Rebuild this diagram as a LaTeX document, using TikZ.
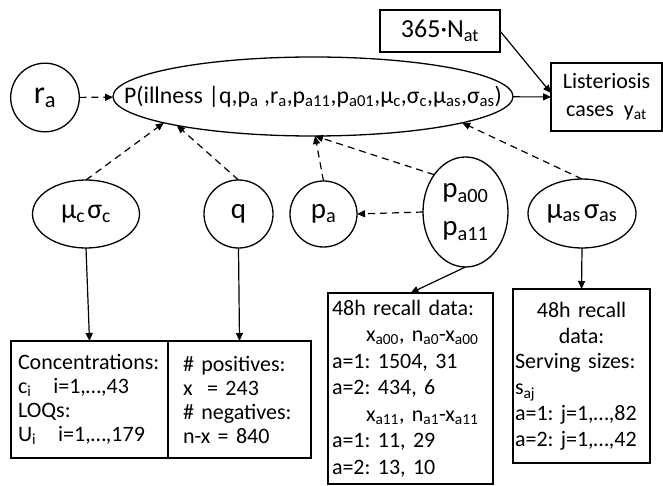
\documentclass[tikz,border=0pt]{standalone}
\usepackage{fontspec}
\setmainfont{Carlito}
\usetikzlibrary{arrows.meta,shapes.geometric}
\newcommand\sbs[1]{\textsubscript{#1}}
\frenchspacing
\begin{document}
\frenchspacing
\begin{tikzpicture}[x=1pt,y=-1pt,
  every node/.style={inner sep=0pt, outer sep=0pt},
  ell/.style={draw, ellipse, line width=1.3pt, inner sep=0pt},
  boxnode/.style={draw, rectangle, line width=1.5pt},
  lbl/.style={font=\fontsize{29}{38}\selectfont},
  dasharrow/.style={line width=1.2pt, dash pattern=on 7pt off 5pt, -{Triangle[length=8pt,width=7pt]}},
  solidarrow/.style={line width=1.2pt, -{Triangle[length=8pt,width=7pt]}}
]
\useasboundingbox (0,0) rectangle (663,486);

\node[ell, minimum width=68.6pt, minimum height=68.6pt, font=\fontsize{32}{34}\selectfont] (ra) at (45,97.5) {r\sbs{a}};
\node[ell, minimum width=400pt, minimum height=79pt, font=\fontsize{23.8}{26}\selectfont] (main) at (313,96.5)
  {\makebox[0pt]{P(illness |q,p\sbs{a} ,r\sbs{a},p\sbs{a11},p\sbs{a01},μ\sbs{c},σ\sbs{c},μ\sbs{as},σ\sbs{as})}};
\node[boxnode, minimum width=120pt, minimum height=42pt, font=\fontsize{26}{28}\selectfont] (nat) at (440,31) {365·N\sbs{at}};
\node[boxnode, minimum width=111pt, minimum height=68pt, align=center, font=\fontsize{22}{28}\selectfont] (lis) at (606.5,97) {Listeriosis\\cases\ \ y\sbs{at}};

\node[ell, minimum width=107pt, minimum height=68pt, font=\fontsize{28}{30}\selectfont] (mu) at (86,214) {μ\sbs{c}\hspace{2pt}σ\sbs{c}};
\node[ell, minimum width=69pt, minimum height=68pt, lbl] (q) at (238.5,214) {q};
\node[ell, minimum width=67pt, minimum height=66pt, lbl] (pa) at (323.5,214) {p\sbs{a}};
\node[ell, minimum width=85pt, minimum height=110pt, lbl, align=center] (pa00) at (465.5,212) {p\sbs{a00}\\p\sbs{a11}};
\node[ell, minimum width=108pt, minimum height=69pt, lbl] (mas) at (582,213.5) {μ\sbs{as}\hspace{3pt}σ\sbs{as}};

\node[boxnode, minimum width=157pt, minimum height=117pt, text width=143pt, align=left, font=\fontsize{22}{24}\selectfont] (conc) at (89.5,399.5)
  {Concentrations:\\c\sbs{i}\quad i=1,…,43\\LOQs:\\U\sbs{i}\quad i=1,…,179};
\node[boxnode, minimum width=143pt, minimum height=117pt, text width=113pt, align=left, font=\fontsize{22}{24}\selectfont] (pos) at (239.5,399.5)
  {\#\ positives:\\x\ \ = 243\\\#\ negatives:\\n-x = 840};
\node[boxnode, minimum width=165pt, minimum height=191pt, text width=157pt, align=left, font=\fontsize{22}{26.5}\selectfont] (rec1) at (410.5,388.5)
  {48h recall data:\\
   \hspace*{34pt}x\sbs{a00},\ n\sbs{a0}-x\sbs{a00}\\
   a=1: 1504, 31\\
   a=2: 434, 6\\
   \hspace*{34pt}x\sbs{a11},\ n\sbs{a1}-x\sbs{a11}\\
   a=1: 11, 29\\
   a=2: 13, 10};
\node[boxnode, minimum width=137pt, minimum height=174pt, text width=133pt, align=left, font=\fontsize{22}{25.7}\selectfont] (rec2) at (581.5,376)
  {\makebox[133pt]{48h recall}\\\makebox[133pt]{data:}\\Serving sizes:\\s\sbs{aj}\\a=1: j=1,…,82\\a=2: j=1,…,42};

\draw[dasharrow] (ra) -- (main);
\draw[solidarrow] (main) -- (lis);
\draw[solidarrow] (nat.east) -- ([yshift=4pt]lis.west);
\draw[dasharrow] (mu.north) -- (main.190);
\draw[dasharrow] (q.north) -- (main.192);
\draw[dasharrow] (pa.north) -- (main.273);
\draw[dasharrow] (pa00.130) -- (main.273);
\draw[dasharrow] (pa00.west) -- (pa.east);
\draw[dasharrow] (mas.north) -- (main.350);
\draw[solidarrow] (pa00.south) -- (rec1.north);
\draw[solidarrow] (mas.south) -- (rec2.north);
\draw[solidarrow] (mu.south) -- (conc.north);
\draw[solidarrow] (q.south) -- (pos.north);
\end{tikzpicture}
\end{document}
